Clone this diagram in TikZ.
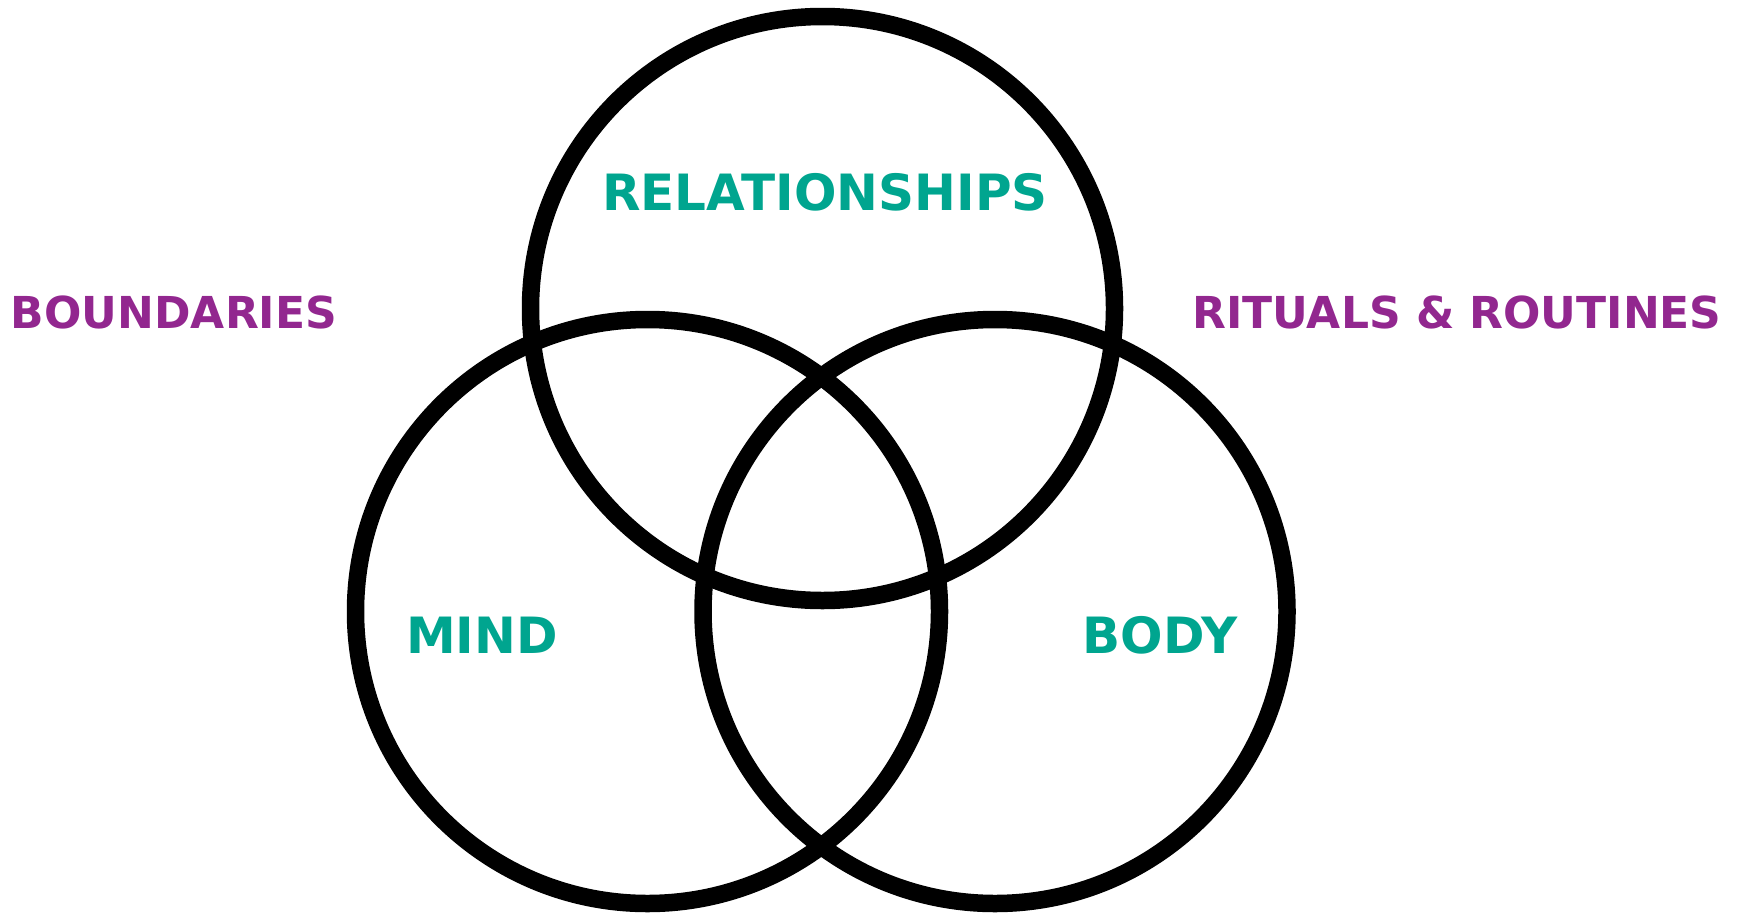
\documentclass[tikz,border=0pt]{standalone}
\usepackage{fontspec}
\setmainfont{DejaVu Sans}
\usepackage{tikz}
\usetikzlibrary{positioning}
\definecolor{teal}{RGB}{0, 165, 143}
\definecolor{purple}{RGB}{146, 39, 143}

\begin{document}
\begin{tikzpicture}[
  x=1pt, y=-1pt,
  ring/.style={draw=black, line width=17.5pt, circle, minimum size=584pt, inner sep=0pt},
  label/.style={font=\fontsize{50}{60}\selectfont\bfseries, text=#1, inner sep=0pt, anchor=base},
  outer/.style={label=purple, font=\fontsize{44}{53}\selectfont\bfseries}
]
\useasboundingbox (0,0) rectangle (1742,913);

% Three overlapping circles
\node[ring] (rel) at (822.5,308.5) {};
\node[ring] (mind) at (647.5,611.5) {};
\node[ring] (body) at (995,611.5) {};

% Circle labels
\node[label=teal] (reltext) at (825,210) {RELATIONSHIPS};
\node[label=teal] (mindtext) at (482,653) {MIND};
\node[label=teal] (bodytext) at (1160,653) {BODY};

% Outer labels
\node[outer] (bound) at (174,328) {BOUNDARIES};
\node[outer] (rituals) at (1457,328) {RITUALS \& ROUTINES};

\end{tikzpicture}
\end{document}
